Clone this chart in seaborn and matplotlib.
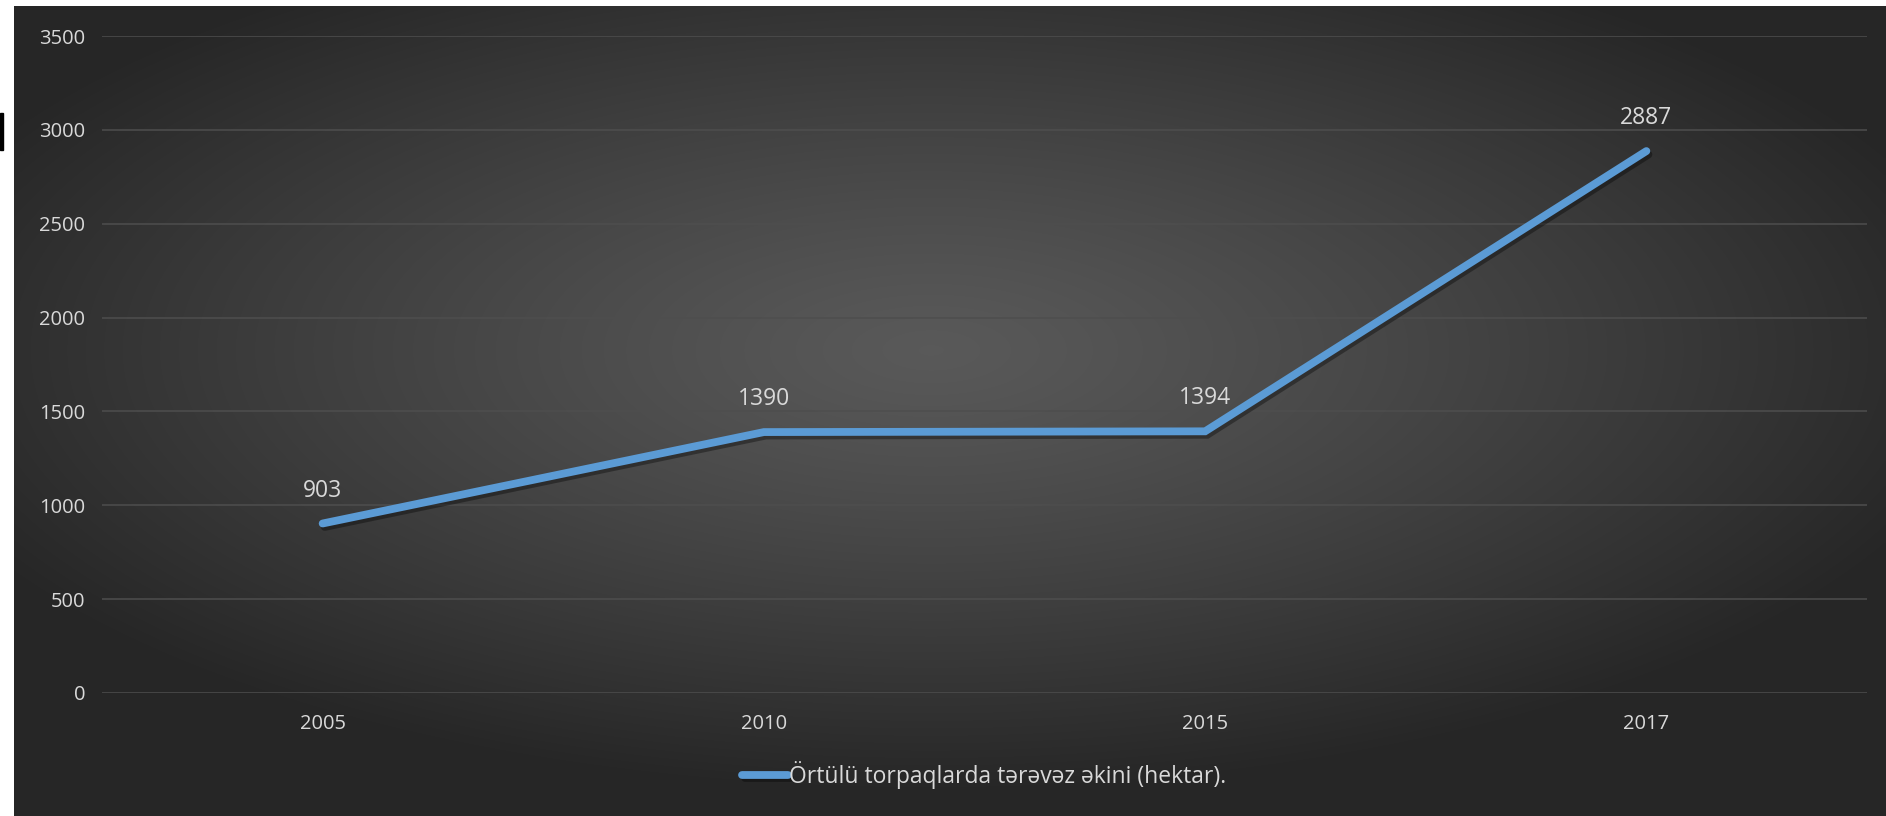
import numpy as np
import pandas as pd
import seaborn as sns
import matplotlib.pyplot as plt
import matplotlib.patheffects as pe
from matplotlib.patches import Rectangle

# data
years = ['2005', '2010', '2015', '2017']
hectares = [903, 1390, 1394, 2887]
series_name = 'Örtülü torpaqlarda tərəvəz əkini (hektar).'
y_ticks = [0, 500, 1000, 1500, 2000, 2500, 3000, 3500]

df = pd.DataFrame({'year': years, 'value': hectares})

W, H = 1886, 816
sns.set_theme(style='dark')
plt.rcParams['font.family'] = ['Open Sans', 'DejaVu Sans']
text_color = '#d9d9d9'
fs = 14.5

fig = plt.figure(figsize=(W / 100, H / 100), dpi=100, facecolor='white')

# dark radial background of the chart area
bg = fig.add_axes([14 / W, 0, 1 - 14 / W, (H - 6) / H])
gx, gy = np.meshgrid(np.linspace(-1, 1, 600), np.linspace(-1, 1, 300))
r = np.sqrt((gx + 0.02) ** 2 + ((gy + 0.15) * 1.05) ** 2)
r = np.clip(r / 1.15, 0, 1)
shade = 0.35 - 0.20 * r ** 1.2
img = np.dstack([shade, shade, shade])
bg.imshow(img, aspect='auto', extent=[0, 1, 0, 1], interpolation='bilinear')
bg.set_axis_off()

# small black mark at the left edge
fig.patches.append(Rectangle((0, 1 - 150 / H), 3 / W, 37 / H,
                             transform=fig.transFigure, color='black', zorder=5))

ax = fig.add_axes([102 / W, (H - 693) / H, (1867 - 102) / W, (693 - 36) / H])
ax.set_facecolor('none')

sns.lineplot(
    ax=ax, data=df, x='year', y='value',
    color='#5b9bd5', linewidth=5.6, label=series_name,
    solid_capstyle='round', solid_joinstyle='miter',
    path_effects=[pe.SimpleLineShadow(offset=(1.5, -2.5), alpha=0.35, shadow_color='black'),
                  pe.Normal()],
)

for i, v in enumerate(hectares):
    ax.annotate(str(v), (i, v), xytext=(0, 15), textcoords='offset points',
                ha='center', va='bottom', color=text_color, fontsize=16.5)

ax.set_xlim(-0.5, len(years) - 0.5)
ax.set_ylim(0, 3500)
ax.set_yticks(y_ticks)
ax.set_yticklabels([str(t) for t in y_ticks])
ax.yaxis.grid(True, color='#4e4e4e', linewidth=1.1)
ax.xaxis.grid(False)
for s in ax.spines.values():
    s.set_visible(False)
ax.tick_params(axis='y', length=0, pad=12, labelsize=fs, labelcolor=text_color)
ax.tick_params(axis='x', length=0, pad=15, labelsize=fs, labelcolor=text_color)
ax.set_xlabel('')
ax.set_ylabel('')

ax.legend(loc='center', bbox_to_anchor=(0.5, (693 - 775) / (693 - 36)),
          frameon=False, fontsize=16.5, labelcolor=text_color,
          handlelength=2.0, handletextpad=0.05)

fig.savefig('out.png', dpi=100, facecolor='white')
